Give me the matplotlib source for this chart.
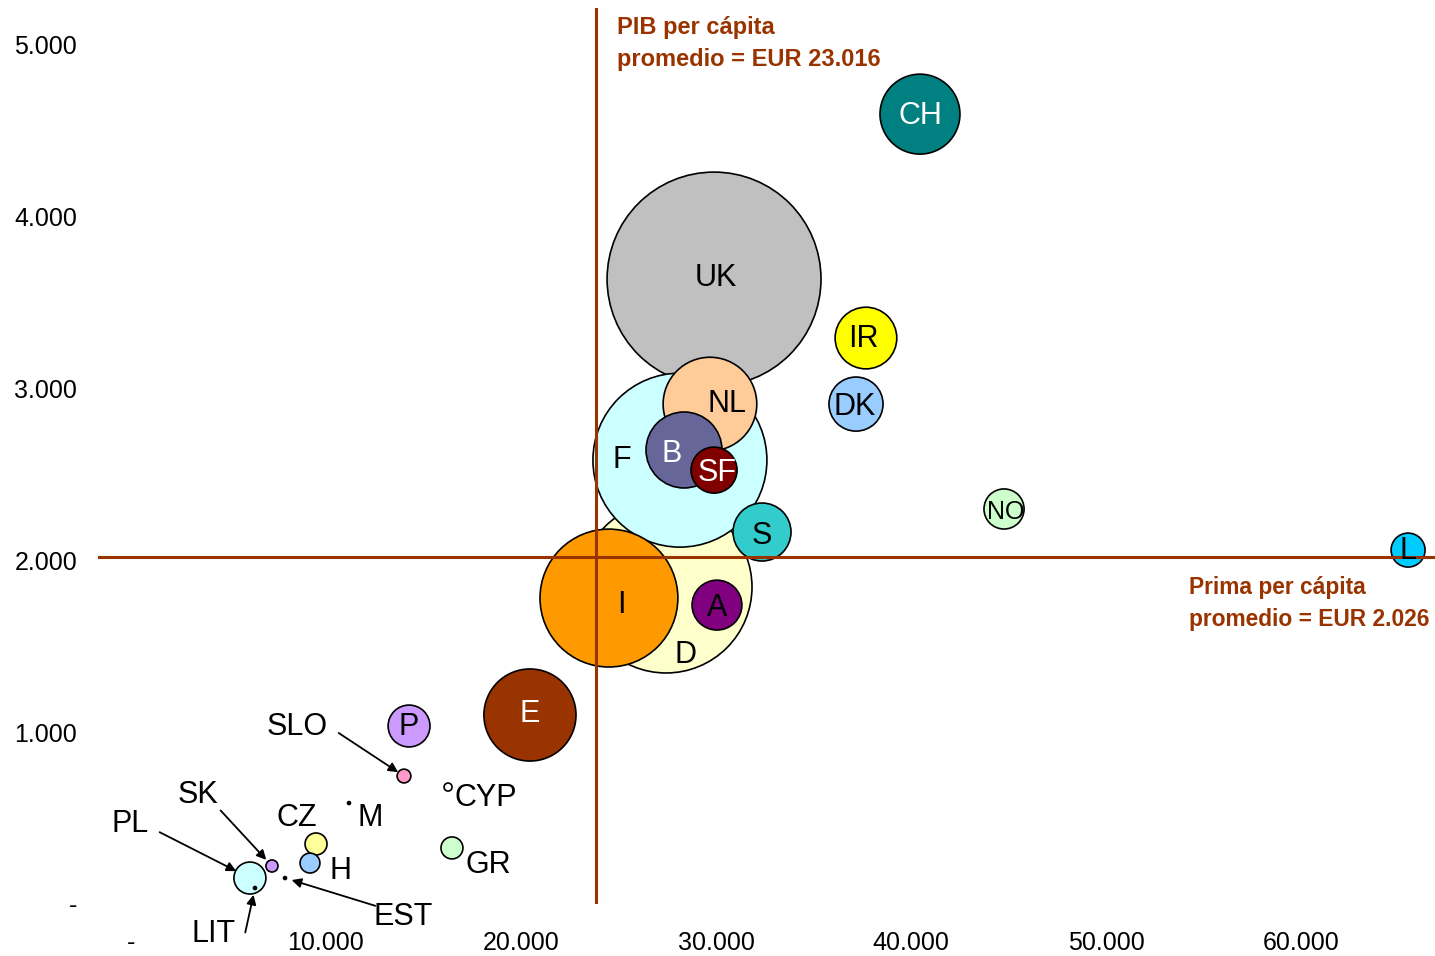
import matplotlib.pyplot as plt
from matplotlib.ticker import FuncFormatter, MultipleLocator

plt.rcParams['font.family'] = ['Liberation Sans', 'DejaVu Sans']

# datos por país (orden = orden de dibujo)
paises = ['UK', 'D', 'F', 'I', 'NL', 'B', 'SF', 'S', 'A', 'CH', 'IR', 'DK', 'NO', 'L', 'E', 'P',
          'GR', 'CZ', 'H', 'PL', 'SK', 'SLO', 'CYP', 'M', 'EST', 'LIT']
pib = [29900, 27440, 28150, 24510, 29690, 28360, 29900, 32360, 30050, 40460, 37690, 37180, 44770,
       65490, 20460, 14260, 16460, 9490, 9180, 6100, 7230, 14000, 16260, 11180, 7900, 6360]
prima = [3634, 1843, 2581, 1779, 2907, 2640, 2523, 2163, 1738, 4593, 3291, 2907, 2297,
         2058, 1099, 1035, 326, 349, 238, 151, 221, 744, 680, 587, 151, 93]
volumen = [313, 202, 207, 130, 60, 39.5, 14.5, 23, 17, 43.7, 26, 20, 11,
           7.9, 58, 12, 3.3, 3.3, 2.7, 7, 1.0, 1.3, 0.44, 0.06, 0.06, 0.06]
colores = ['#C0C0C0', '#FFFFCC', '#CCFFFF', '#FF9900', '#FFCC99', '#666699', '#800000', '#33CCCC',
           '#800080', '#008080', '#FFFF00', '#99CCFF', '#CCFFCC', '#00CCFF', '#993300', '#CC99FF',
           '#CCFFCC', '#FFFF99', '#99CCFF', '#CCFFFF', '#CC99FF', '#FF99CC', '#FFFFFF',
           'black', 'black', 'black']

pib_medio = 23850
prima_media = 2015

# posición de la etiqueta respecto a la burbuja (puntos)
etiquetas = {
    'UK': (1, 3), 'D': (14, -47), 'F': (-42, 2), 'I': (9, -3), 'NL': (12, 2), 'B': (-9, -1),
    'SF': (2, 0), 'S': (0, -1), 'A': (0, 0), 'CH': (0, 1), 'IR': (-2, 1), 'DK': (-1, 0),
    'NO': (1, 0), 'L': (0, 1), 'E': (0, 3), 'P': (0, 1),
    'GR': (26, -10), 'CZ': (-14, 21), 'H': (22, -4), 'PL': (-86, 41), 'SK': (-53, 53),
    'SLO': (-77, 37), 'CYP': (27, -6), 'M': (15, -9), 'EST': (85, -26), 'LIT': (-30, -31),
}
blancos = ['CH', 'B', 'SF', 'E']
# flechas: (inicio relativo en puntos, recorte en la punta)
flechas = {
    'SLO': ((-47, 31), 5), 'SK': ((-37, 40), 6), 'PL': ((-65, 33), 11),
    'EST': ((65, -20), 5), 'LIT': ((-7, -32), 5),
}

fig = plt.figure(figsize=(14.35, 9.56), dpi=100)
ax = fig.add_axes([0.0683, 0.0544, 0.9317, 0.9372])

ax.scatter(pib, prima, s=[v * 75.8 for v in volumen], c=colores, edgecolors='black',
           linewidths=1.2, zorder=2, clip_on=False)

ax.axvline(pib_medio, color='#993300', lw=2.2, zorder=3)
ax.axhline(prima_media, color='#993300', lw=2.2, zorder=3)

for i, p in enumerate(paises):
    dx, dy = etiquetas[p]
    ax.annotate(p, (pib[i], prima[i]), xytext=(dx, dy - 2), textcoords='offset points',
                ha='center', va='center', fontsize=18 if p == 'NO' else 22,
                color='white' if p in blancos else 'black', zorder=4)
    if p in flechas:
        (fx, fy), enc = flechas[p]
        ax.annotate('', (pib[i], prima[i]), xytext=(fx, fy), textcoords='offset points',
                    arrowprops=dict(arrowstyle='-|>', color='black', lw=1.3,
                                    mutation_scale=14, shrinkA=0, shrinkB=enc), zorder=4)

ax.text(24930, 5165, 'PIB per cápita\npromedio = EUR 23.016', ha='left', va='top',
        fontsize=17, fontweight='bold', color='#993300', linespacing=1.5)
ax.text(54250, 1905, 'Prima per cápita\npromedio = EUR 2.026', ha='left', va='top',
        fontsize=16.4, fontweight='bold', color='#993300', linespacing=1.5, clip_on=False)

fmt = FuncFormatter(lambda v, pos: '-' if v == 0 else f'{v:,.0f}'.replace(',', '.'))
ax.xaxis.set_major_formatter(fmt)
ax.yaxis.set_major_formatter(fmt)
ax.xaxis.set_major_locator(MultipleLocator(10000))
ax.yaxis.set_major_locator(MultipleLocator(1000))
ax.set_xlim(-1690, 66870)
ax.set_ylim(0, 5210)
ax.tick_params(length=0, labelsize=18)
ax.tick_params(axis='x', pad=19.5)
ax.tick_params(axis='y', pad=15)
for s in ax.spines.values():
    s.set_visible(False)

fig.savefig('out.png', dpi=100)
